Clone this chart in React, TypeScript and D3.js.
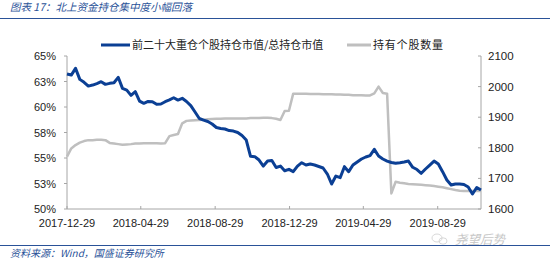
import React from 'react';
import * as d3 from 'd3';

// weekly observation dates (Fridays)
const dates = [
  '2017-12-29', '2018-01-05', '2018-01-12', '2018-01-19', '2018-01-26', '2018-02-02', '2018-02-09', '2018-02-16',
  '2018-02-23', '2018-03-02', '2018-03-09', '2018-03-16', '2018-03-23', '2018-03-30', '2018-04-06', '2018-04-13',
  '2018-04-20', '2018-04-27', '2018-05-04', '2018-05-11', '2018-05-18', '2018-05-25', '2018-06-01', '2018-06-08',
  '2018-06-15', '2018-06-22', '2018-06-29', '2018-07-06', '2018-07-13', '2018-07-20', '2018-07-27', '2018-08-03',
  '2018-08-10', '2018-08-17', '2018-08-24', '2018-08-31', '2018-09-07', '2018-09-14', '2018-09-21', '2018-09-28',
  '2018-10-05', '2018-10-12', '2018-10-19', '2018-10-26', '2018-11-02', '2018-11-09', '2018-11-16', '2018-11-23',
  '2018-11-30', '2018-12-07', '2018-12-14', '2018-12-21', '2018-12-28', '2019-01-04', '2019-01-11', '2019-01-18',
  '2019-01-25', '2019-02-01', '2019-02-08', '2019-02-15', '2019-02-22', '2019-03-01', '2019-03-08', '2019-03-15',
  '2019-03-22', '2019-03-29', '2019-04-05', '2019-04-12', '2019-04-19', '2019-04-26', '2019-05-03', '2019-05-10',
  '2019-05-17', '2019-05-24', '2019-05-31', '2019-06-07', '2019-06-14', '2019-06-21', '2019-06-28', '2019-07-05',
  '2019-07-12', '2019-07-19', '2019-07-26', '2019-08-02', '2019-08-09', '2019-08-16', '2019-08-23', '2019-08-30',
  '2019-09-06', '2019-09-13', '2019-09-20', '2019-09-27', '2019-10-04', '2019-10-11', '2019-10-18', '2019-10-25',
  '2019-11-01', '2019-11-08',
];

// 前二十大重仓个股持仓市值/总持仓市值 (%)
const top20Share = [
  63.23, 63.13, 63.79, 62.71, 62.42, 62.05, 62.15, 62.3, 62.48, 62.22, 62.32, 62.38, 62.91, 61.83, 61.66, 61.14,
  61.5, 60.58, 60.36, 60.54, 60.52, 60.26, 60.29, 60.52, 60.7, 60.91, 60.68, 60.85, 60.54, 60.14, 59.51, 58.87,
  58.72, 58.58, 58.33, 57.99, 57.89, 57.84, 57.69, 57.64, 57.5, 57.2, 56.76, 55.16, 55.13, 54.8, 54.21, 54.7,
  54.75, 54.07, 54.21, 53.75, 53.89, 53.66, 54.21, 54.54, 54.31, 54.41, 54.31, 54.17, 54.02, 53.43, 52.45, 53.23,
  53.07, 54.15, 53.66, 54.31, 54.61, 54.9, 55.1, 55.24, 55.85, 55.19, 54.9, 54.7, 54.56, 54.48, 54.54, 54.61,
  54.7, 54.09, 53.87, 53.5, 53.92, 54.31, 54.7, 54.41, 53.66, 52.84, 52.35, 52.45, 52.45, 52.4, 52.16, 51.47,
  52.11, 51.86,
];

// 持有个股数量
const stockCount = [
  1771, 1798, 1809, 1817, 1822, 1825, 1825, 1826, 1826, 1825, 1816, 1814, 1812, 1810, 1811, 1812,
  1814, 1814, 1815, 1815, 1815, 1815, 1814, 1815, 1838, 1842, 1845, 1880, 1888, 1889, 1890, 1891,
  1892, 1893, 1894, 1895, 1895, 1896, 1896, 1896, 1896, 1896, 1896, 1897, 1897, 1897, 1898, 1898,
  1897, 1895, 1891, 1920, 1921, 1977, 1977, 1977, 1977, 1976, 1976, 1976, 1975, 1975, 1975, 1974,
  1974, 1973, 1973, 1972, 1972, 1972, 1971, 1971, 1978, 2000, 1979, 1977, 1651, 1689, 1686, 1684,
  1682, 1681, 1680, 1679, 1678, 1677, 1675, 1673, 1671, 1668, 1665, 1662, 1660, 1659, 1659, 1659,
  1659, 1659,
];

const xTickDates = ['2017-12-29', '2018-04-29', '2018-08-29', '2018-12-29', '2019-04-29', '2019-08-29'];
const leftTicks = [50, 52.5, 55, 57.5, 60, 62.5, 65];
const leftLabels = ['50%', '53%', '55%', '58%', '60%', '63%', '65%'];
const rightTicks = [1600, 1700, 1800, 1900, 2000, 2100];

const seriesNames = ['前二十大重仓个股持仓市值/总持仓市值', '持有个股数量'];

const W = 550;
const H = 262;
const BLUE = '#0b3f94';
const GREY = '#bfbfbf';
const AXIS = '#a6a6a6';
const NUM_FONT = '"Liberation Sans", Arial, sans-serif';
const CJK_FONT = '"Noto Sans CJK SC", sans-serif';

const parse = d3.timeParse('%Y-%m-%d');

export default function App() {
  const plot = { left: 67, right: 481, top: 56, bottom: 209 };

  const x = d3.scaleTime()
    .domain([parse('2017-12-29')!, parse('2019-11-08')!])
    .range([plot.left, plot.right]);
  const yL = d3.scaleLinear().domain([50, 65]).range([plot.bottom, plot.top]);
  const yR = d3.scaleLinear().domain([1600, 2100]).range([plot.bottom, plot.top]);

  const pts = dates.map((d, i) => ({ t: parse(d)!, share: top20Share[i], count: stockCount[i] }));

  const shareLine = d3.line<typeof pts[0]>().x(d => x(d.t)).y(d => yL(d.share));
  const countLine = d3.line<typeof pts[0]>().x(d => x(d.t)).y(d => yR(d.count));

  return (
    <svg width={W} height={H} style={{ position: 'fixed', left: 0, top: 0, background: '#fff' }}>
      {/* title */}
      <text x={10} y={11} fill="#2a5298" fontFamily={CJK_FONT} fontSize={10.5} fontStyle="italic">
        图表 17：北上资金持仓集中度小幅回落
      </text>
      <line x1={0} x2={W} y1={18.5} y2={18.5} stroke="#2a5298" strokeWidth={1} />

      {/* legend */}
      <line x1={101} x2={130} y1={45} y2={45} stroke={BLUE} strokeWidth={3} />
      <text x={132} y={49} fontFamily={CJK_FONT} fontSize={11} fill="#222">{seriesNames[0]}</text>
      <line x1={347} x2={371} y1={45} y2={45} stroke={GREY} strokeWidth={3} />
      <text x={373} y={49} fontFamily={CJK_FONT} fontSize={11} fill="#222" letterSpacing={0.8}>{seriesNames[1]}</text>

      {/* axes */}
      <line x1={plot.left} x2={plot.left} y1={plot.top} y2={plot.bottom} stroke={AXIS} />
      <line x1={plot.right} x2={plot.right} y1={plot.top} y2={plot.bottom} stroke={AXIS} />
      <line x1={plot.left} x2={plot.right} y1={plot.bottom} y2={plot.bottom} stroke={AXIS} />

      {leftTicks.map((v, i) => (
        <g key={'l' + v}>
          <line x1={plot.left - 3} x2={plot.left} y1={yL(v)} y2={yL(v)} stroke={AXIS} />
          <text x={56} y={yL(v) + 4} textAnchor="end" fontFamily={NUM_FONT} fontSize={11} fill="#222">
            {leftLabels[i]}
          </text>
        </g>
      ))}

      {rightTicks.map(v => (
        <g key={'r' + v}>
          <line x1={plot.right - 3} x2={plot.right} y1={yR(v)} y2={yR(v)} stroke={AXIS} />
          <text x={488} y={yR(v) + 4} fontFamily={NUM_FONT} fontSize={11.5} fill="#222">
            {v}
          </text>
        </g>
      ))}

      {xTickDates.map(d => (
        <g key={d}>
          <line x1={x(parse(d)!)} x2={x(parse(d)!)} y1={plot.bottom - 3} y2={plot.bottom} stroke={AXIS} />
          <text x={x(parse(d)!)} y={227} textAnchor="middle" fontFamily={NUM_FONT} fontSize={11} fill="#222">
            {d}
          </text>
        </g>
      ))}

      {/* series */}
      <path d={countLine(pts) ?? ''} fill="none" stroke={GREY} strokeWidth={2.5} strokeLinejoin="round" />
      <path d={shareLine(pts) ?? ''} fill="none" stroke={BLUE} strokeWidth={3} strokeLinejoin="round" />

      {/* watermark */}
      <g opacity={0.55}>
        <ellipse cx={437} cy={238} rx={5} ry={4} fill="none" stroke="#aaa" strokeWidth={0.8} />
        <ellipse cx={443} cy={241} rx={4} ry={3.2} fill="none" stroke="#aaa" strokeWidth={0.8} />
        <text x={455} y={244} fontFamily={CJK_FONT} fontSize={12.5} fill="#999" fontStyle="italic">尧望后势</text>
      </g>

      {/* footer */}
      <line x1={0} x2={W} y1={245.5} y2={245.5} stroke="#2a5298" strokeWidth={1} />
      <text x={10} y={257} fill="#2a5298" fontFamily={CJK_FONT} fontSize={10} fontStyle="italic">
        资料来源：Wind，国盛证券研究所
      </text>
    </svg>
  );
}
